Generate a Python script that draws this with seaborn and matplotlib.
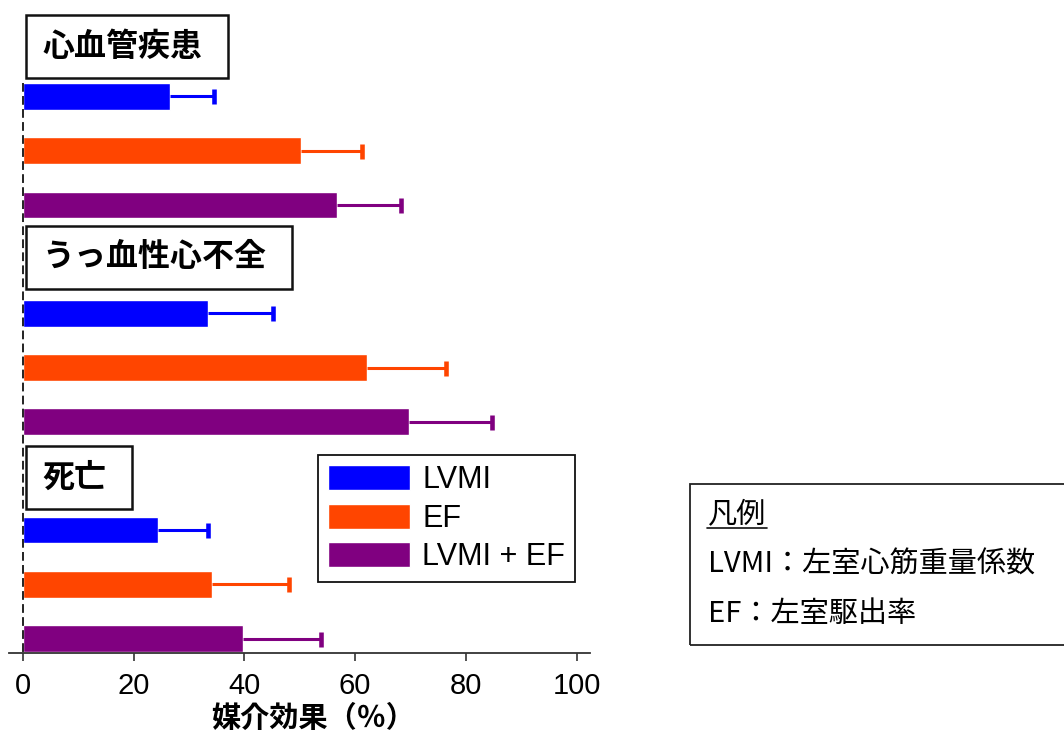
import numpy as np
import pandas as pd
import matplotlib
matplotlib.use("Agg")
import matplotlib.pyplot as plt
from matplotlib.patches import Rectangle
from matplotlib.lines import Line2D
import seaborn as sns

# --- data -------------------------------------------------------------
outcomes = ["心血管疾患", "うっ血性心不全", "死亡"]
mediators = ["LVMI", "EF", "LVMI + EF"]
colors = ["#0000FF", "#FF4500", "#800080"]

cvd_effect = [26.6, 50.2, 56.7]
cvd_upper = [34.6, 61.3, 68.2]
chf_effect = [33.5, 62.1, 69.7]
chf_upper = [45.1, 76.4, 84.7]
death_effect = [24.4, 34.2, 39.8]
death_upper = [33.5, 48.1, 53.8]

x_ticks = [0, 20, 40, 60, 80, 100]
x_label = "媒介効果（％）"
note_title = "凡例"
note_lines = ["LVMI：左室心筋重量係数", "EF：左室駆出率"]

effects = [cvd_effect, chf_effect, death_effect]
uppers = [cvd_upper, chf_upper, death_upper]

# one header row per outcome followed by one row per mediator
order = []
records = []
for outcome, eff, up in zip(outcomes, effects, uppers):
    order.append(outcome)
    for med, e, u in zip(mediators, eff, up):
        key = f"{outcome}|{med}"
        order.append(key)
        records.append({"row": key, "outcome": outcome, "mediator": med,
                        "effect": e, "upper": u})
df = pd.DataFrame(records)

# --- style ------------------------------------------------------------
sns.set_style("white")
plt.rcParams["font.family"] = ["Noto Sans CJK JP", "DejaVu Sans"]
plt.rcParams["text.color"] = "black"
latin = ["Liberation Sans", "DejaVu Sans"]

W, H = 1064, 734
fig = plt.figure(figsize=(W / 100, H / 100), dpi=100)
ax = fig.add_axes([0.0085, 0.1108, 0.546, 0.8892])

sns.barplot(data=df, x="effect", y="row", hue="mediator", order=order,
            hue_order=mediators, palette=colors, dodge=False, width=0.49,
            orient="h", saturation=1, errorbar=None, ax=ax)

# upper error bars (cap only at the upper end)
for med, col in zip(mediators, colors):
    sub = df[df["mediator"] == med]
    ypos = [order.index(r) for r in sub["row"]]
    cont = ax.errorbar(sub["effect"], ypos,
                       xerr=[np.zeros(len(sub)), sub["upper"] - sub["effect"]],
                       fmt="none", ecolor=col, elinewidth=2.2, capsize=5.4,
                       capthick=3.3, zorder=3)
    for cap in cont.lines[1]:
        if np.allclose(cap.get_xdata(), sub["effect"].to_numpy()):
            cap.set_visible(False)

ax.set_xlim(-2.47, 102.4)
ax.set_ylim(11.26, -0.78)

# dashed zero line
ax.plot([0, 0], [0.75, 11.26], color="#222222", lw=1.4,
        ls=(0, (4.5, 2.2)), zorder=4, clip_on=False)

# outcome headers
header_offsets = [0.08, -0.03, 0.03]
headers = []
for outcome, off in zip(outcomes, header_offsets):
    t = ax.text(3.5, order.index(outcome) + off, outcome, fontsize=23,
                fontweight="bold", ha="left", va="center", zorder=6)
    headers.append(t)

# axes decoration
for side in ["left", "top", "right"]:
    ax.spines[side].set_visible(False)
ax.spines["bottom"].set_color("#333333")
ax.spines["bottom"].set_linewidth(1.3)
ax.set_yticks([])
ax.set_ylabel("")
ax.set_xticks(x_ticks)
ax.set_xticklabels([str(t) for t in x_ticks], family=latin, fontsize=21,
                   color="black")
ax.tick_params(axis="x", direction="out", length=6, width=1.2,
               color="#333333", pad=8, bottom=True)
ax.set_xlabel(x_label, fontsize=21, fontweight="bold", color="black")
ax.xaxis.set_label_coords(0.524, -0.077)

# series legend
sns.move_legend(ax, loc="upper left", bbox_to_anchor=(318 / W, 1 - 455 / H),
                bbox_transform=fig.transFigure, title=None, frameon=True,
                fancybox=False, framealpha=1, edgecolor="#111111",
                prop={"family": latin, "size": 22}, handlelength=2.68,
                handleheight=0.9, labelspacing=0.27, borderpad=0.33,
                handletextpad=0.4, borderaxespad=0)
leg = ax.get_legend()
leg.get_frame().set_linewidth(1.3)
for txt in leg.get_texts():
    txt.set_color("black")

# abbreviation note box
fig.add_artist(Rectangle((690 / W, 1 - 645 / H), 400 / W, 161 / H,
                         transform=fig.transFigure, fill=False,
                         ec="#222222", lw=1.3, clip_on=False))
fig.text(708 / W, 1 - 515 / H, note_title, fontsize=21, ha="left",
         va="center")
fig.add_artist(Line2D([707 / W, 767 / W], [1 - 528 / H, 1 - 528 / H],
                      transform=fig.transFigure, color="#111111", lw=1.2))
for i, line in enumerate(note_lines):
    fig.text(708 / W, 1 - (565 + 49 * i) / H, line, fontsize=21,
             ha="left", va="center")

# frames around the outcome headers, sized from the rendered text
fig.canvas.draw()
renderer = fig.canvas.get_renderer()
for t in headers:
    bb = t.get_window_extent(renderer)
    cy = 0.5 * (bb.y0 + bb.y1)
    x0, x1 = bb.x0 - 16, bb.x1 + 26
    y0, y1 = cy - 31.5, cy + 31.5
    ax.add_patch(Rectangle((x0 / W, y0 / H), (x1 - x0) / W, (y1 - y0) / H,
                           transform=fig.transFigure, fc="white",
                           ec="#111111", lw=1.8, zorder=5, clip_on=False))

fig.savefig("out.png", dpi=100)
